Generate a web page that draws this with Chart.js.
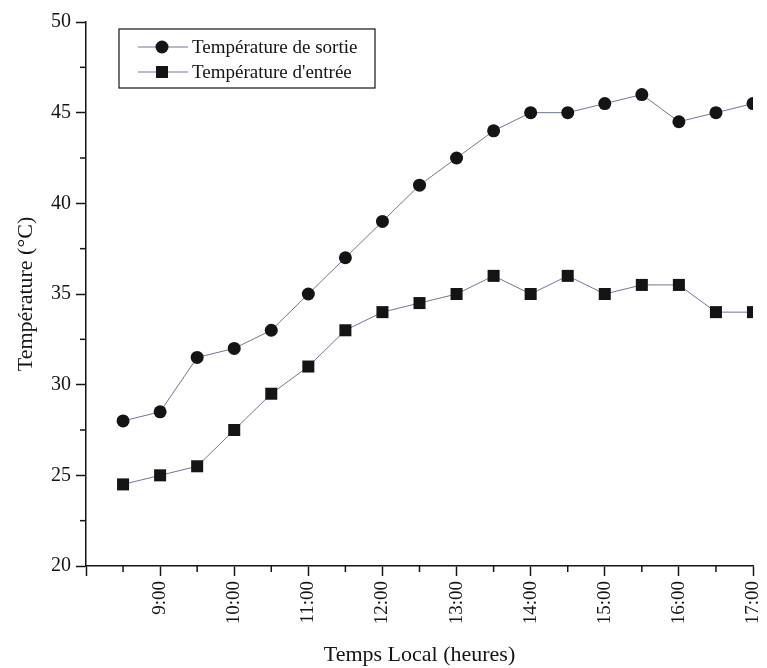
<!DOCTYPE html>
<html>
<head>
<meta charset="utf-8">
<script src="https://cdn.jsdelivr.net/npm/chart.js@4/dist/chart.umd.min.js"></script>
<style>
  html, body { margin: 0; padding: 0; background: #fff; }
  #wrap { width: 767px; height: 668px; }
</style>
</head>
<body>
<div id="wrap"><canvas id="chart" width="767" height="668"></canvas></div>
<script>
// heures locales (décimales) et températures relevées
var heures = [8.5, 9, 9.5, 10, 10.5, 11, 11.5, 12, 12.5, 13, 13.5, 14, 14.5, 15, 15.5, 16, 16.5, 17];
var tSortie = [28, 28.5, 31.5, 32, 33, 35, 37, 39, 41, 42.5, 44, 45, 45, 45.5, 46, 44.5, 45, 45.5];
var tEntree = [24.5, 25, 25.5, 27.5, 29.5, 31, 33, 34, 34.5, 35, 36, 35, 36, 35, 35.5, 35.5, 34, 34];
var labelsSeries = ['Température de sortie', "Température d'entrée"];
var xTicks = [9, 10, 11, 12, 13, 14, 15, 16, 17];

var SERIF = '"Liberation Serif", "DejaVu Serif", serif';
var LINE_COLOR = '#6d7894';
var INK = '#141414';

function toPoints(xs, ys) {
  return xs.map(function (x, i) { return { x: x, y: ys[i] }; });
}

// petites graduations intermédiaires + légende encadrée
var extrasPlugin = {
  id: 'extras',
  afterDraw: function (chart) {
    var ctx = chart.ctx;
    var xs = chart.scales.x, ys = chart.scales.y;
    ctx.save();
    ctx.strokeStyle = INK;
    ctx.lineWidth = 1.5;
    var v, p;
    for (v = 8.5; v < 17; v += 1) {
      p = xs.getPixelForValue(v);
      ctx.beginPath(); ctx.moveTo(p, xs.top); ctx.lineTo(p, xs.top + 6); ctx.stroke();
    }
    for (v = 22.5; v < 50; v += 5) {
      p = ys.getPixelForValue(v);
      ctx.beginPath(); ctx.moveTo(ys.right, p); ctx.lineTo(ys.right - 6, p); ctx.stroke();
    }

    // légende
    var bx = 119, by = 29, bw = 256, bh = 59;
    ctx.lineWidth = 1.2;
    ctx.strokeRect(bx, by, bw, bh);
    ctx.font = '19px ' + SERIF;
    ctx.textBaseline = 'middle';
    ctx.fillStyle = INK;
    chart.data.datasets.forEach(function (ds, i) {
      var y = by + 18 + i * 25;
      ctx.strokeStyle = LINE_COLOR;
      ctx.lineWidth = 1;
      ctx.beginPath(); ctx.moveTo(138, y); ctx.lineTo(188, y); ctx.stroke();
      ctx.fillStyle = INK;
      Chart.helpers.drawPoint(ctx, { pointStyle: ds.pointStyle, radius: ds.pointRadius, borderWidth: 0 }, 162, y);
      ctx.fillText(ds.label, 192, y + 1);
    });
    ctx.restore();
  }
};

new Chart(document.getElementById('chart'), {
  type: 'line',
  data: {
    datasets: [
      {
        label: labelsSeries[0],
        data: toPoints(heures, tSortie),
        borderColor: LINE_COLOR,
        borderWidth: 1,
        pointStyle: 'circle',
        pointRadius: 6.5,
        pointBackgroundColor: INK,
        pointBorderColor: INK,
        pointBorderWidth: 0,
        clip: { left: 12, top: 12, right: 0, bottom: 12 }
      },
      {
        label: labelsSeries[1],
        data: toPoints(heures, tEntree),
        borderColor: LINE_COLOR,
        borderWidth: 1,
        pointStyle: 'rect',
        pointRadius: 8.5,
        pointBackgroundColor: INK,
        pointBorderColor: INK,
        pointBorderWidth: 0,
        clip: { left: 12, top: 12, right: 0, bottom: 12 }
      }
    ]
  },
  options: {
    responsive: false,
    animation: false,
    layout: { padding: { left: 0, right: 14, top: 22, bottom: 0 } },
    plugins: {
      legend: { display: false },
      tooltip: { enabled: false }
    },
    scales: {
      x: {
        type: 'linear',
        min: 8,
        max: 17,
        afterBuildTicks: function (scale) {
          scale.ticks = [8].concat(xTicks).map(function (v) { return { value: v }; });
        },
        afterFit: function (scale) {
          scale.height = 102;
          scale.paddingLeft = 0;
          scale.paddingRight = 0;
        },
        border: { color: INK, width: 1.5 },
        grid: { drawOnChartArea: false, tickLength: 10, tickColor: INK, tickWidth: 1.5 },
        ticks: {
          minRotation: 90,
          maxRotation: 90,
          padding: 5,
          color: INK,
          font: { family: SERIF, size: 19 },
          callback: function (v) { return v === 8 ? '' : v + ':00'; }
        },
        title: {
          display: true,
          text: 'Temps Local (heures)',
          color: INK,
          font: { family: SERIF, size: 22 },
          padding: { top: 8, bottom: 0 }
        }
      },
      y: {
        min: 20,
        max: 50,
        afterFit: function (scale) { scale.width = 86; },
        border: { color: INK, width: 1.5 },
        grid: { drawOnChartArea: false, tickLength: 10, tickColor: INK, tickWidth: 1.5 },
        ticks: {
          stepSize: 5,
          padding: 5,
          color: INK,
          font: { family: SERIF, size: 20 }
        },
        title: {
          display: true,
          text: 'Température (°C)',
          color: INK,
          font: { family: SERIF, size: 22 },
          padding: { top: 13, bottom: 4 }
        }
      }
    }
  },
  plugins: [extrasPlugin]
});
</script>
</body>
</html>
